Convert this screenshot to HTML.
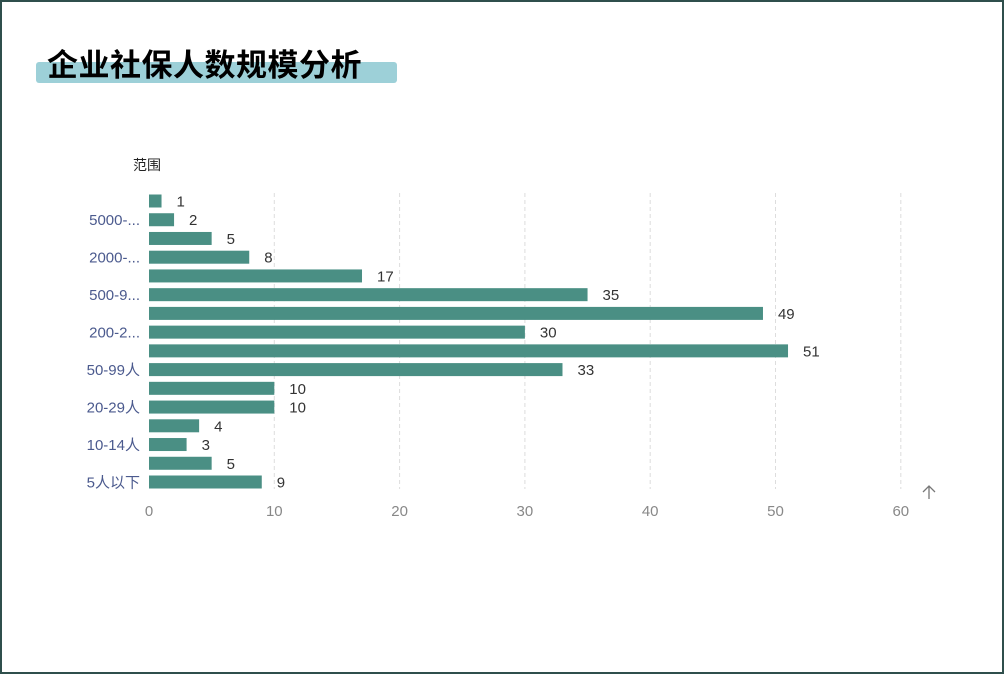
<!DOCTYPE html>
<html><head><meta charset="utf-8">
<style>
html,body{margin:0;padding:0;background:#fff;}
#frame{position:absolute;left:0;top:0;width:1000px;height:670px;border:2px solid #2f4f4c;background:#fff;overflow:hidden;}
#hl{position:absolute;left:34px;top:60px;width:361px;height:21px;background:#9dd0d8;border-radius:3px;}
#title{position:absolute;left:45px;top:38px;font:bold 31px "Liberation Sans","Noto Sans CJK SC",sans-serif;color:#000;letter-spacing:0.5px;}
svg{position:absolute;left:0;top:0;}
text{font-family:"Liberation Sans","Noto Sans CJK SC",sans-serif;}
</style></head><body>
<div id="frame">
<div id="hl"></div>
<div id="title">企业社保人数规模分析</div>
</div>
<svg id="chart" width="1004" height="674"></svg>
<script>
const categories=["5人以下","5-9人","10-14人","15-19人","20-29人","30-49人","50-99人","100-199人","200-299人","300-499人","500-999人","1000-1999人","2000-4999人","5000-9999人","10000人以上"];
const shortLabels=["5人以下","","10-14人","","20-29人","","50-99人","","200-2...","","500-9...","","2000-...","","5000-...",""];
const values=[9,5,3,4,10,10,33,51,30,49,35,17,8,5,2,1];
const ticks=[0,10,20,30,40,50,60];
const NS="http://www.w3.org/2000/svg";
const svg=document.getElementById('chart');
const x0=149,xs=12.53;
const xAt=v=>x0+v*xs;
const yTop=201,yBot=482;
const n=values.length;
const yAt=i=>yBot-i*(yBot-yTop)/(n-1);
function el(t,a){const e=document.createElementNS(NS,t);for(const k in a)e.setAttribute(k,a[k]);svg.appendChild(e);return e;}
ticks.forEach(t=>{
 if(t>0){const g=el('line',{x1:xAt(t),x2:xAt(t),y1:193,y2:489,stroke:'#dddddd','stroke-dasharray':'4,3','stroke-width':1});
 
 }
 const tx=el('text',{x:xAt(t),y:516,'text-anchor':'middle','font-size':15,fill:'#888'});
 tx.textContent=t;
 
 
});
values.forEach((v,i)=>{
 const y=yAt(i);
 const r=el('rect',{x:x0,y:y-6.5,width:v*xs,height:13,fill:'#4a8f84'});
 
 
 const lb=el('text',{x:xAt(v)+15,y:y+5.5,'font-size':15,fill:'#333'});
 lb.textContent=v;
 
 
 if(shortLabels[i]){
  const c=el('text',{x:140,y:y+5.5,'text-anchor':'end','font-size':15,fill:'#4b5a8e'});
  c.textContent=shortLabels[i];
  
  
 }
});
const yt=el('text',{x:133,y:170,'font-size':14,fill:'#222'});
yt.textContent='范围';


const ar=el('path',{d:'M929 499 V486 M923 492 L929 486 L935 492',stroke:'#777',fill:'none','stroke-width':1.3});


</script>
</body></html>
